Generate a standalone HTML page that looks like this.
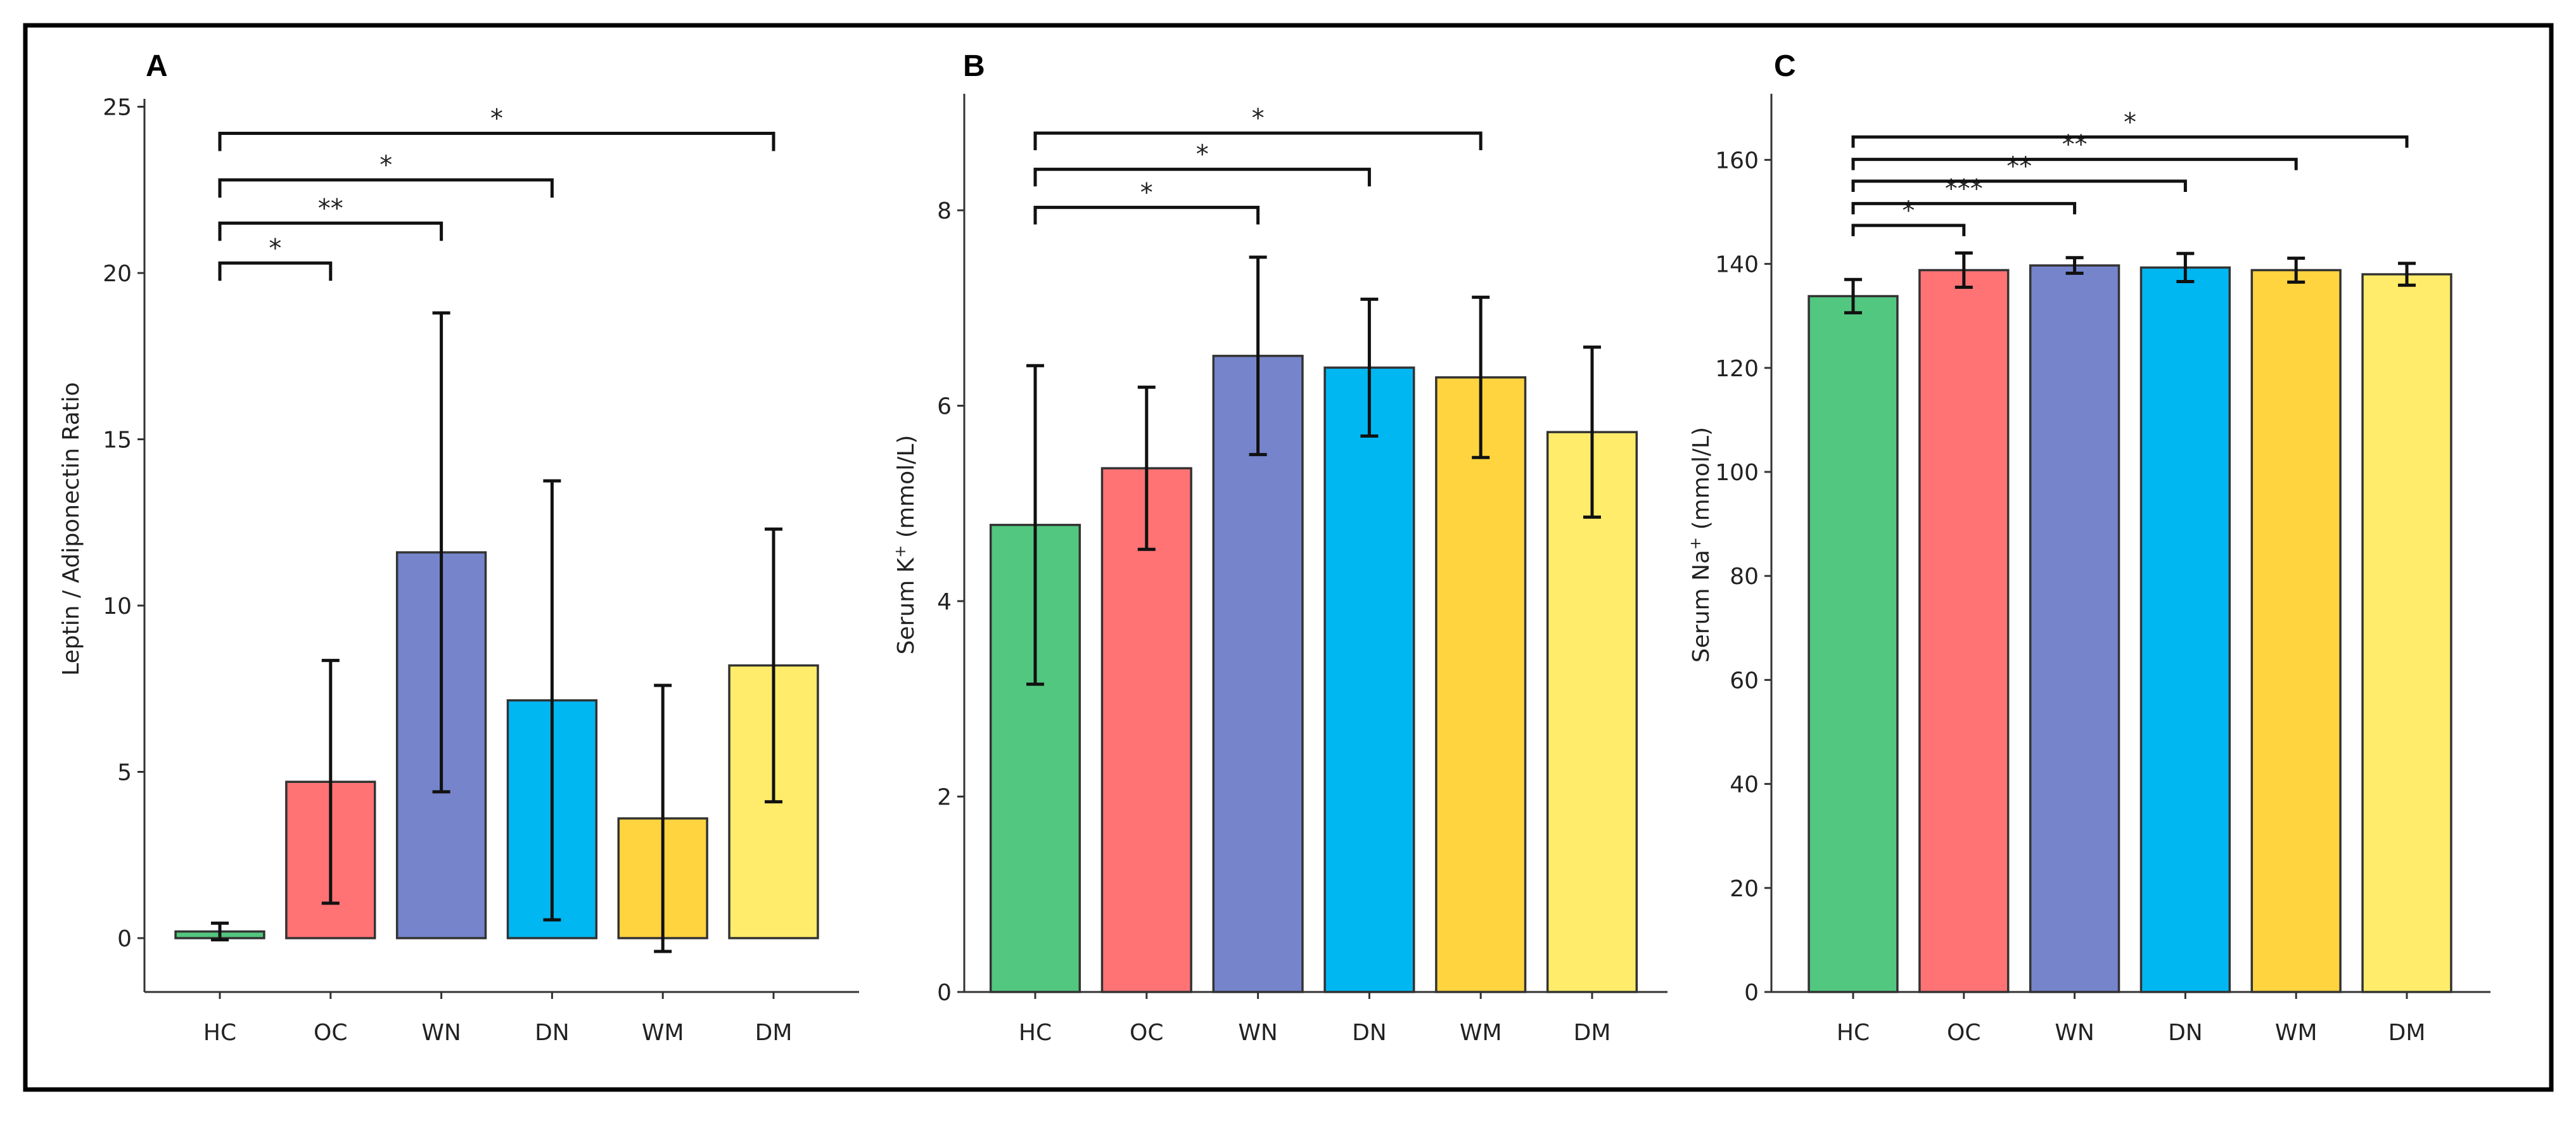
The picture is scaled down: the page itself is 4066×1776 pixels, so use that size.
<!DOCTYPE html>
<html><head><meta charset="utf-8"><style>
html,body{margin:0;padding:0;background:#fff;}
svg{display:block;font-family:"DejaVu Sans","Liberation Sans",sans-serif;}
</style></head><body>
<svg id="fig" width="4066" height="1776" viewBox="0 0 4066 1776" xmlns="http://www.w3.org/2000/svg">
<rect x="40" y="40" width="3987" height="1680" fill="none" stroke="#000" stroke-width="7"/>
</svg>
<script>
const categories = ["HC","OC","WN","DN","WM","DM"];
const colors = ["#52C77F","#FF7375","#7584CB","#00B7F2","#FFD43F","#FFEC6A"];

const aMeans = [0.2, 4.7, 11.6, 7.15, 3.6, 8.2];
const aErr = [0.25, 3.65, 7.2, 6.6, 4.0, 4.1];
const aTicks = [0,5,10,15,20,25];
const aSigPairs = [[0,1],[0,2],[0,3],[0,5]];
const aSigLevels = [20.3, 21.5, 22.8, 24.2];
const aSigLabels = ["*","**","*","*"];

const bMeans = [4.78, 5.36, 6.51, 6.39, 6.29, 5.73];
const bErr = [1.63, 0.83, 1.01, 0.70, 0.82, 0.87];
const bTicks = [0,2,4,6,8];
const bSigPairs = [[0,2],[0,3],[0,4]];
const bSigLevels = [8.03, 8.42, 8.79];
const bSigLabels = ["*","*","*"];

const cMeans = [133.8, 138.8, 139.7, 139.3, 138.8, 138.0];
const cErr = [3.2, 3.3, 1.5, 2.7, 2.3, 2.1];
const cTicks = [0,20,40,60,80,100,120,140,160];
const cSigPairs = [[0,1],[0,2],[0,3],[0,4],[0,5]];
const cSigLevels = [147.4, 151.6, 155.9, 160.1, 164.4];
const cSigLabels = ["*","***","**","**","*"];

const NS = "http://www.w3.org/2000/svg";
const svg = document.getElementById("fig");
function mk(tag, attrs, parent, txt){
  const e = document.createElementNS(NS, tag);
  for (const k in attrs) e.setAttribute(k, attrs[k]);
  if (txt !== undefined) e.textContent = txt;
  (parent||svg).appendChild(e);
  return e;
}

function panel(cfg, means, errs, ticks, pairs, levels, labels){
  const g = mk("g", {});
  
  
  const y = v => cfg.y0 - (v - 0) * cfg.ppu;
  const x = i => cfg.x0c + i * cfg.step;
  const bw = cfg.step * 0.8;
  const ya = mk("line", {x1:cfg.axL, x2:cfg.axL, y1:cfg.axTop, y2:cfg.axBot, stroke:"#333", "stroke-width":3}, g);
  
  
  const xa = mk("line", {x1:cfg.axL, x2:cfg.axR, y1:cfg.axBot, y2:cfg.axBot, stroke:"#333", "stroke-width":3}, g);
  
  
  ticks.forEach(t => {
    const ty = y(t);
    const tk = mk("line", {x1:cfg.axL-11, x2:cfg.axL, y1:ty, y2:ty, stroke:"#333", "stroke-width":3}, g);
    
    
    const tl = mk("text", {x:cfg.axL-20, y:ty+13, "text-anchor":"end", "font-size":36, fill:"#222"}, g, String(t));
    
    
  });
  categories.forEach((c, i) => {
    const cx = x(i);
    const tk = mk("line", {x1:cx, x2:cx, y1:cfg.axBot, y2:cfg.axBot+11, stroke:"#333", "stroke-width":3}, g);
    
    
    const tl = mk("text", {x:cx, y:cfg.axBot+76, "text-anchor":"middle", "font-size":36, fill:"#222"}, g, c);
    
    
    const top = y(means[i]), base = y(0);
    const bar = mk("rect", {x:cx-bw/2, y:Math.min(top,base), width:bw, height:Math.abs(base-top), fill:colors[i], stroke:"#333", "stroke-width":3.5}, g);
    
    
    const hi = y(means[i]+errs[i]), lo = y(means[i]-errs[i]);
    const eb = mk("path", {d:`M${cx},${hi}V${lo}M${cx-14},${hi}H${cx+14}M${cx-14},${lo}H${cx+14}`, stroke:"#111", "stroke-width":5, fill:"none"}, g);
    
    
  });
  pairs.forEach((p, k) => {
    const ly = y(levels[k]);
    const x1 = x(p[0]), x2 = x(p[1]);
    const br = mk("path", {d:`M${x1},${ly+cfg.tick}V${ly}H${x2}V${ly+cfg.tick}`, stroke:"#111", "stroke-width":5, fill:"none"}, g);
    
    
    const st = mk("text", {x:(x1+x2)/2, y:ly-10, "text-anchor":"middle", "font-size":40, fill:"#222"}, g, labels[k]);
    
    
  });
  const yt = mk("text", {x:cfg.titleX, y:cfg.titleY, "text-anchor":"middle", "font-size":36, fill:"#222", transform:`rotate(-90 ${cfg.titleX} ${cfg.titleY})`}, g);
  
  
  yt.innerHTML = cfg.title;
  const pl = mk("text", {x:cfg.letterX, y:120, "font-size":48, "font-weight":"bold", fill:"#000", "font-family":"Liberation Sans, sans-serif"}, g, cfg.letter);
  
  
}

panel({name:"panel-a", y0:1481, ppu:52.5, x0c:347, step:174.8, axL:228, axR:1356, axTop:156, axBot:1566, tick:28,
  titleX:124, titleY:835, title:"Leptin / Adiponectin Ratio", letter:"A", letterX:230},
  aMeans, aErr, aTicks, aSigPairs, aSigLevels, aSigLabels);
panel({name:"panel-b", y0:1566, ppu:154.25, x0c:1634, step:175.8, axL:1522, axR:2632, axTop:148, axBot:1566, tick:27,
  titleX:1442, titleY:860, title:"Serum K<tspan font-size='24' dy='-13'>+</tspan><tspan dy='13'> (mmol/L)</tspan>", letter:"B", letterX:1520},
  bMeans, bErr, bTicks, bSigPairs, bSigLevels, bSigLabels);
panel({name:"panel-c", y0:1566, ppu:8.21, x0c:2925, step:174.8, axL:2796, axR:3931, axTop:148, axBot:1566, tick:17,
  titleX:2697, titleY:860, title:"Serum Na<tspan font-size='24' dy='-13'>+</tspan><tspan dy='13'> (mmol/L)</tspan>", letter:"C", letterX:2800},
  cMeans, cErr, cTicks, cSigPairs, cSigLevels, cSigLabels);
</script>
</body></html>
